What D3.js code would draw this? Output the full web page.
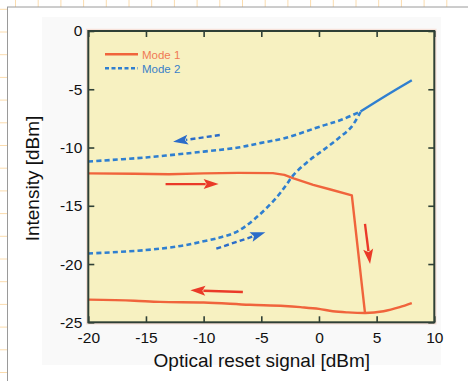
<!DOCTYPE html>
<html><head><meta charset="utf-8">
<script src="https://cdn.jsdelivr.net/npm/d3@7"></script>
<style>html,body{margin:0;padding:0;background:#fff;}svg{display:block;}</style>
</head><body>
<svg id="chart" width="468" height="381"></svg>
<script>
// ---- data ----
const xTicks = [-20, -15, -10, -5, 0, 5, 10];
const yTicks = [0, -5, -10, -15, -20, -25];
const mode1Upper = [[-20,-12.22],[-16,-12.25],[-13,-12.3],[-10,-12.22],[-7,-12.18],[-4,-12.2],[-3,-12.35],[-2.2,-12.65],[-0.5,-13.2],[1,-13.6],[2.85,-14.1],[3.99,-24.2]];
const mode1Lower = [[-20,-23.05],[-16,-23.15],[-13.8,-23.25],[-10,-23.3],[-6,-23.5],[-3,-23.6],[-1.6,-23.7],[0,-23.85],[1.2,-24.05],[2.5,-24.15],[4,-24.2],[5.6,-24.05],[7,-23.7],[8.05,-23.35]];
const mode2Upper = [[-20,-11.2],[-15,-10.85],[-10,-10.35],[-7,-10.0],[-5,-9.6],[-3,-9.2],[0.4,-8.1],[2,-7.6],[3.6,-6.9]];
const mode2Lower = [[-20,-19.1],[-15,-18.8],[-12,-18.45],[-10,-18.05],[-8.5,-17.7],[-7.4,-17.35],[-6.5,-16.85],[-5.6,-16.15],[-4.6,-15.25],[-3.6,-14.2],[-2.9,-13.3],[-2.2,-12.35],[-0.9,-11.15],[0.4,-10.2],[1.7,-9.2],[2.8,-8.25],[3.6,-6.95]];
const mode2Shared = [[3.6,-6.9],[5.9,-5.5],[8.05,-4.22]];
const arrows = [
  {from:[-8.6,-8.93], to:[-12.65,-9.5], color:"#2b6cc9", dashed:true},
  {from:[-8.9,-18.68], to:[-4.65,-17.28], color:"#2b6cc9", dashed:true},
  {from:[-13.3,-13.14], to:[-8.7,-13.14], color:"#ea3a28", dashed:false},
  {from:[3.99,-16.55], to:[4.43,-20.0], color:"#ea3a28", dashed:false},
  {from:[-6.6,-22.4], to:[-11.15,-22.25], color:"#ea3a28", dashed:false}
];
const legendLabels = ["Mode 1", "Mode 2"];
const xTitle = "Optical reset signal [dBm]";
const yTitle = "Intensity [dBm]";

// ---- layout ----
const svg = d3.select("#chart");
const W = 468, H = 381;
const L = 88.3, R = 434.3, T = 31, B = 322.3;
const red = "#f0643c", blue = "#2f7fd0";

// page background grid (graph paper)
const gridG = svg.append("g");
for (let gx = 15.5; gx < W; gx += 22.7) gridG.append("line").attr("x1", gx).attr("x2", gx).attr("y1", 0).attr("y2", H).attr("stroke", "#fbdcae").attr("stroke-width", 1);
for (let gy = 9.3; gy < H; gy += 22.7) gridG.append("line").attr("x1", 0).attr("x2", W).attr("y1", gy).attr("y2", gy).attr("stroke", "#fbdcae").attr("stroke-width", 1);
svg.append("rect").attr("x", 7.5).attr("y", 7).attr("width", W).attr("height", H).attr("fill", "#fff");
svg.append("line").attr("x1", 7).attr("x2", W).attr("y1", 7).attr("y2", 7).attr("stroke", "#9a9a9a").attr("stroke-width", 1);
svg.append("line").attr("x1", 7.5).attr("x2", 7.5).attr("y1", 7).attr("y2", H).attr("stroke", "#9a9a9a").attr("stroke-width", 1);
svg.append("rect").attr("x", 42).attr("y", 17).attr("width", 399).attr("height", 348).attr("fill", "#f9f9f9");

const x = d3.scaleLinear().domain([-20, 10]).range([L, R]);
const y = d3.scaleLinear().domain([-25, 0]).range([B, T]);

// plot background
svg.append("rect").attr("x", L - 1.5).attr("y", T - 1.5).attr("width", R - L + 3).attr("height", B - T + 3).attr("fill", "none").attr("stroke", "#f8e2da").attr("stroke-width", 1.5);
svg.append("rect").attr("x", L).attr("y", T).attr("width", R - L).attr("height", B - T).attr("fill", "#f7f1c1");

const font = "'Liberation Sans', Arial, Helvetica, sans-serif";
const tickLen = 6;
const fmt = d => String(d);
// axes
const axB = d3.axisBottom(x).tickValues(xTicks).tickSize(-tickLen).tickPadding(10).tickFormat(fmt);
const axT = d3.axisTop(x).tickValues(xTicks).tickSize(-tickLen).tickFormat("");
const axL = d3.axisLeft(y).tickValues(yTicks).tickSize(-tickLen).tickPadding(6).tickFormat(fmt);
const axR = d3.axisRight(y).tickValues(yTicks).tickSize(-tickLen).tickFormat("");
function styleAxis(g) {
  g.select(".domain").remove();
  g.selectAll(".tick line").attr("stroke", "#2f4036").attr("stroke-width", 1.6);
  g.selectAll(".tick text").attr("fill", "#111").style("font-family", font).style("font-size", "15.5px");
}
svg.append("g").attr("transform", `translate(0,${B})`).call(axB).call(styleAxis);
svg.append("g").attr("transform", `translate(0,${T})`).call(axT).call(styleAxis);
svg.append("g").attr("transform", `translate(${L},0)`).call(axL).call(styleAxis);
svg.append("g").attr("transform", `translate(${R},0)`).call(axR).call(styleAxis);

// curves
const lineLin = d3.line().x(d => x(d[0])).y(d => y(d[1]));
const lineMono = d3.line().x(d => x(d[0])).y(d => y(d[1])).curve(d3.curveMonotoneX);
const lineCR = d3.line().x(d => x(d[0])).y(d => y(d[1])).curve(d3.curveCatmullRom.alpha(0.5));
const plot = svg.append("g");
plot.append("path").attr("d", lineLin(mode1Upper)).attr("fill", "none").attr("stroke", red).attr("stroke-width", 2.4).attr("stroke-linejoin", "round");
plot.append("path").attr("d", lineMono(mode1Lower)).attr("fill", "none").attr("stroke", red).attr("stroke-width", 2.4);
plot.append("path").attr("d", lineCR(mode2Upper)).attr("fill", "none").attr("stroke", blue).attr("stroke-width", 2.6).attr("stroke-dasharray", "5,3.2");
plot.append("path").attr("d", lineCR(mode2Lower)).attr("fill", "none").attr("stroke", blue).attr("stroke-width", 2.6).attr("stroke-dasharray", "5,3.2");
plot.append("path").attr("d", lineCR(mode2Shared)).attr("fill", "none").attr("stroke", blue).attr("stroke-width", 2.4);

// arrows
arrows.forEach(a => {
  const x1 = x(a.from[0]), y1 = y(a.from[1]), x2 = x(a.to[0]), y2 = y(a.to[1]);
  const dx = x2 - x1, dy = y2 - y1, len = Math.hypot(dx, dy);
  const ux = dx / len, uy = dy / len, px = -uy, py = ux;
  const hl = 15, hw = 5;
  const bx = x2 - ux * hl, by = y2 - uy * hl;
  plot.append("line").attr("x1", x1).attr("y1", y1).attr("x2", bx + ux * 2).attr("y2", by + uy * 2)
    .attr("stroke", a.color).attr("stroke-width", 2.4).attr("stroke-dasharray", a.dashed ? "5,3.2" : null);
  plot.append("path").attr("d", `M${x2},${y2}L${bx + px * hw},${by + py * hw}L${bx + ux * 3},${by + uy * 3}L${bx - px * hw},${by - py * hw}Z`).attr("fill", a.color);
});

// frame
svg.append("rect").attr("x", L).attr("y", T).attr("width", R - L).attr("height", B - T)
  .attr("fill", "none").attr("stroke", "#2f4036").attr("stroke-width", 2);

// legend
const lg = svg.append("g");
const legColors = [red, blue];
legendLabels.forEach((lab, i) => {
  const ly = 54.3 + i * 14;
  lg.append("line").attr("x1", 105).attr("x2", 138).attr("y1", ly).attr("y2", ly)
    .attr("stroke", legColors[i]).attr("stroke-width", 2.4).attr("stroke-dasharray", i ? "4,2.5" : null);
  lg.append("text").attr("x", 142).attr("y", ly + 4.3).text(lab)
    .attr("fill", i ? "#3a7fc8" : "#f07a55").style("font-family", font).style("font-size", "11.5px");
});

// titles
svg.append("text").attr("x", (L + R) / 2 + 0.5).attr("y", 367).attr("text-anchor", "middle").text(xTitle)
  .attr("fill", "#111").style("font-family", font).style("font-size", "19px");
svg.append("text").attr("transform", `translate(38.5,${178.5}) rotate(-90)`).attr("text-anchor", "middle").text(yTitle)
  .attr("fill", "#111").style("font-family", font).style("font-size", "19px");
</script>
</body></html>
